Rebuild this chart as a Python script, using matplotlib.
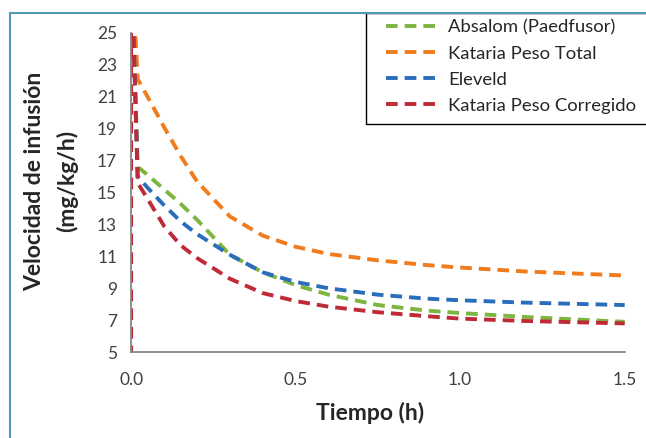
import matplotlib.pyplot as plt
from matplotlib.patches import Rectangle

plt.rcParams['font.family'] = ['Lato', 'DejaVu Sans']

# tiempo (h) y velocidad de infusión (mg/kg/h) de cada modelo
tiempo = [0, 0, 0.02, 0.05, 0.1, 0.15, 0.2, 0.3, 0.4, 0.5, 0.6, 0.75, 0.9, 1.0, 1.2, 1.5]
absalom = [30, 30, 16.6, 16.1, 15.2, 14.3, 13.3, 11.1, 10.0, 9.2, 8.6, 7.95, 7.6, 7.45, 7.2, 6.9]
kataria_total = [30, 30, 22.1, 21.0, 19.1, 17.3, 15.7, 13.5, 12.3, 11.6, 11.15, 10.75, 10.45, 10.3, 10.05, 9.8]
eleveld = [30, 30, 16.0, 15.3, 14.2, 13.2, 12.4, 11.1, 10.0, 9.4, 9.0, 8.6, 8.35, 8.25, 8.1, 7.95]
kataria_corr = [0, 30, 15.6, 14.6, 12.9, 11.7, 10.9, 9.6, 8.7, 8.2, 7.85, 7.5, 7.25, 7.1, 6.95, 6.8]

series = [
    ('Absalom (Paedfusor)', absalom, '#7DB540'),
    ('Kataria Peso Total', kataria_total, '#F07C1E'),
    ('Eleveld', eleveld, '#2A6EBB'),
    ('Kataria Peso Corregido', kataria_corr, '#BE2B36'),
]

fig = plt.figure(figsize=(6.46, 4.38), dpi=100)
ax = fig.add_axes([0.203, 0.196, 0.764, 0.729])

for nombre, valores, color in series:
    ax.plot(tiempo, valores, color=color, lw=2.8, ls=(0, (3.0, 1.8)),
            dash_capstyle='butt', label=nombre)

ax.set_xlim(0, 1.5)
ax.set_ylim(5, 25)
ax.set_xticks([0, 0.5, 1.0, 1.5])
ax.set_xticklabels(['0.0', '0.5', '1.0', '1.5'])
ax.set_yticks(range(5, 26, 2))
ax.tick_params(length=0, labelsize=12.5, colors='#404040')
ax.tick_params(axis='x', pad=14)
ax.tick_params(axis='y', pad=10)

ax.spines['top'].set_visible(False)
ax.spines['right'].set_visible(False)
ax.spines['left'].set_color('#868686')
ax.spines['bottom'].set_color('#868686')
ax.spines['left'].set_linewidth(1.3)
ax.spines['bottom'].set_linewidth(1.3)

fig.text(0.573, 0.057, 'Tiempo (h)', ha='center', va='center',
         fontsize=16.5, fontweight='bold', color='#262626')
fig.text(0.079, 0.587, 'Velocidad de infusión\n(mg/kg/h)', ha='center', va='center',
         rotation=90, fontsize=16.5, fontweight='bold', color='#262626',
         linespacing=1.6)

# recuadro de la leyenda, que sigue más allá del borde derecho
W, H = 646, 438
fig.patches.append(Rectangle((366 / W, 1 - 124 / H), 1.0, (124 - 13) / H,
                             transform=fig.transFigure, facecolor='white',
                             edgecolor='black', lw=1.0, zorder=4))

leg = fig.legend(loc='lower left', bbox_to_anchor=(376 / W, 1 - 124 / H),
                 fontsize=13.3, handlelength=2.9, labelspacing=0.55,
                 borderpad=0.55, borderaxespad=0, handletextpad=0.45,
                 frameon=False)
for txt in leg.get_texts():
    txt.set_color('#262626')

# marco exterior
fig.patches.append(Rectangle((10 / W, -0.05), 1.0, 1.05 - 13 / H,
                             transform=fig.transFigure, fill=False,
                             edgecolor='#4E9AB3', lw=1.5, zorder=10))

fig.savefig('out.png', dpi=100)
